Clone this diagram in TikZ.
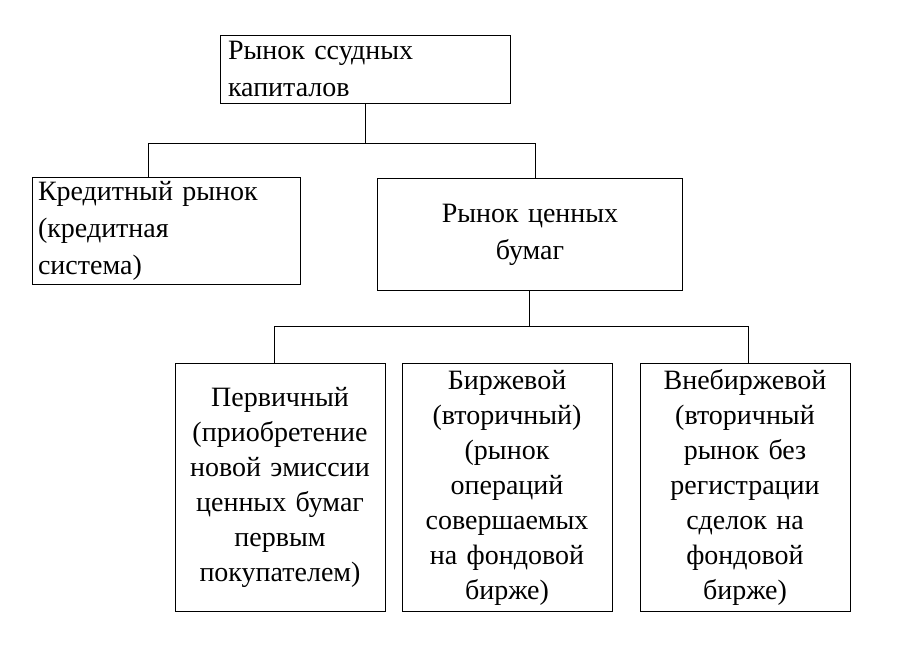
\documentclass[tikz,border=0pt]{standalone}
\usepackage{fontspec}
\setmainfont{Liberation Serif}
\usetikzlibrary{positioning}

\begin{document}
\begin{tikzpicture}[
        x=1pt,y=-1pt,
        box/.style={draw,thick,inner sep=0pt,font=\rmfamily\fontsize{28}{37}\selectfont},
        low/.style={box,minimum width=210,minimum height=248,text width=206,align=center,anchor=north,font=\rmfamily\fontsize{28}{35}\selectfont}
    ]
        \useasboundingbox (0,0) rectangle (900,648);

        \node [box,minimum width=290,minimum height=68,text width=274,align=left] (root) at (365,69) {Рынок ссудных\\капиталов};
        \node [box,minimum width=268,minimum height=107,text width=256,align=left] (credit) at (166,231) {Кредитный рынок\\(кредитная\\система)};
        \node [box,minimum width=305,minimum height=112,text width=290,align=center,anchor=north] (sec) at (530,178) {Рынок ценных\\бумаг\\[37pt]};

        \node [low] (prim) at (280,363) {Первичный\\(приобретение\\новой эмиссии\\ценных бумаг\\первым\\покупателем)\\[35pt]};
        \node [low] (exch) at (507,363) {Биржевой\\(вторичный)\\(рынок\\операций\\совершаемых\\на фондовой\\бирже)};
        \node [low] (otc) at (745,363) {Внебиржевой\\(вторичный\\рынок без\\регистрации\\сделок на\\фондовой\\бирже)};

        % connectors
        \draw [thick] (root.south) -- ++(0,40) coordinate (j1);
        \draw [thick] (credit.north -| 148,0) |- (j1) -| (sec.north -| 535,0);
        \draw [thick] (sec.south -| 529,0) -- ++(0,36) coordinate (j2);
        \draw [thick] (prim.north -| 274,0) |- (j2) -| (otc.north -| 748,0);
    \end{tikzpicture}
\end{document}
